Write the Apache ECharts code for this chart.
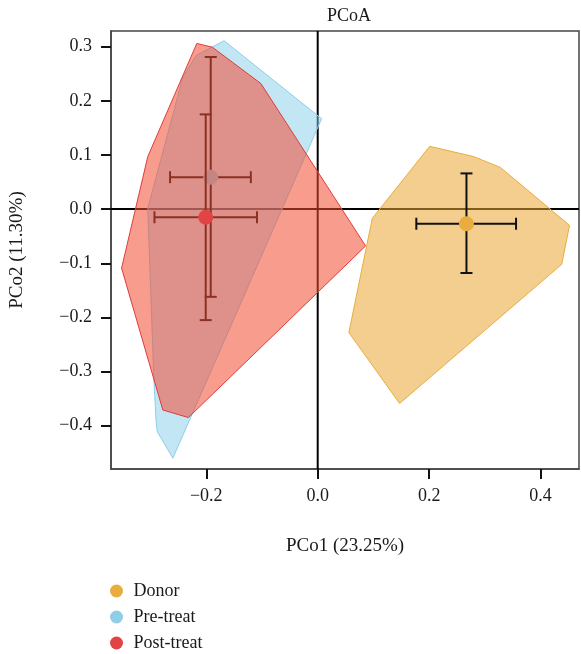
<!DOCTYPE html>
<html>
<head>
<meta charset="utf-8">
<script src="https://cdn.jsdelivr.net/npm/echarts@6.0.0/dist/echarts.min.js"></script>
<style>
  html, body { margin: 0; padding: 0; background: #fff; }
  #root { width: 581px; height: 654px; }
</style>
</head>
<body>
<div id="root"></div>
<script>
// group names
const groups = ['Donor', 'Pre-treat', 'Post-treat']

// convex hull vertices [PCo1, PCo2]
const donorHull = [[0.201, 0.116], [0.280, 0.097], [0.328, 0.077], [0.452, -0.030], [0.438, -0.102], [0.147, -0.359], [0.056, -0.228], [0.098, -0.017]]
const preHull = [[-0.168, 0.311], [0.007, 0.167], [-0.260, -0.460], [-0.288, -0.411], [-0.290, -0.392], [-0.294, -0.316], [-0.305, 0.001], [-0.242, 0.244], [-0.218, 0.284]]
const postHull = [[-0.217, 0.306], [-0.189, 0.299], [-0.102, 0.232], [0.086, -0.068], [-0.232, -0.385], [-0.278, -0.371], [-0.352, -0.109], [-0.305, 0.097]]

// group centres and error bar extents [cx, cy, xlo, xhi, ylo, yhi]
const donorCenter = [0.267, -0.027, 0.177, 0.356, -0.118, 0.066]
const preCenter = [-0.192, 0.059, -0.265, -0.120, -0.162, 0.281]
const postCenter = [-0.201, -0.015, -0.293, -0.109, -0.205, 0.175]

// tick labels
const xTicks = [-0.2, 0, 0.2, 0.4]
const yTicks = [-0.4, -0.3, -0.2, -0.1, 0, 0.1, 0.2, 0.3]

const colors = { 'Donor': '#e9ad3f', 'Pre-treat': '#8ecfe7', 'Post-treat': '#e14444' }
const fills = { 'Donor': 'rgba(235,165,50,0.55)', 'Pre-treat': 'rgba(135,206,235,0.5)', 'Post-treat': 'rgba(242,75,50,0.55)' }
const strokes = { 'Donor': '#e9ad3f', 'Pre-treat': '#8ecfe7', 'Post-treat': '#e03c3c' }

const font = 'Liberation Serif'
const fmt = v => v.toFixed(1).replace('-', '\u2212')

// reference lines through the origin, drawn under the hulls
function zeroSeries (z) {
  return {
    name: 'zero',
    type: 'custom',
    z: z,
    silent: true,
    data: [[0, 0]],
    renderItem: function (params, api) {
      const cs = params.coordSys
      const o = api.coord([api.value(0), api.value(1)])
      const style = { stroke: '#000', lineWidth: 2 }
      return {
        type: 'group',
        children: [
          { type: 'line', shape: { x1: o[0], y1: cs.y, x2: o[0], y2: cs.y + cs.height }, style },
          { type: 'line', shape: { x1: cs.x, y1: o[1], x2: cs.x + cs.width, y2: o[1] }, style }
        ]
      }
    }
  }
}

function hullSeries (name, points, z) {
  return {
    name: name,
    type: 'custom',
    z: z,
    silent: true,
    itemStyle: { color: colors[name] },
    encode: { x: 0, y: 1 },
    data: points,
    renderItem: function (params, api) {
      if (params.dataIndex !== 0) return null
      return {
        type: 'polygon',
        shape: { points: points.map(p => api.coord(p)) },
        style: { fill: fills[name], stroke: strokes[name], lineWidth: 1 }
      }
    }
  }
}

function errorSeries (name, c, z) {
  return {
    name: name,
    type: 'custom',
    z: z,
    silent: true,
    itemStyle: { color: colors[name] },
    encode: { x: [0, 2, 3], y: [1, 4, 5] },
    data: [c],
    renderItem: function (params, api) {
      const cx = api.value(0)
      const cy = api.value(1)
      const l = api.coord([api.value(2), cy])
      const r = api.coord([api.value(3), cy])
      const b = api.coord([cx, api.value(4)])
      const t = api.coord([cx, api.value(5)])
      const cap = 6
      const style = { stroke: '#111', lineWidth: 2 }
      const line = (x1, y1, x2, y2) => ({ type: 'line', shape: { x1, y1, x2, y2 }, style })
      return {
        type: 'group',
        children: [
          line(l[0], l[1], r[0], r[1]),
          line(l[0], l[1] - cap, l[0], l[1] + cap),
          line(r[0], r[1] - cap, r[0], r[1] + cap),
          line(b[0], b[1], t[0], t[1]),
          line(b[0] - cap, b[1], b[0] + cap, b[1]),
          line(t[0] - cap, t[1], t[0] + cap, t[1])
        ]
      }
    }
  }
}

function centerSeries (name, c, z) {
  return {
    name: name,
    type: 'scatter',
    z: z,
    silent: true,
    symbol: 'circle',
    symbolSize: 15,
    itemStyle: { color: colors[name], opacity: 1 },
    data: [[c[0], c[1]]]
  }
}

const chart = echarts.init(document.getElementById('root'), null, { renderer: 'canvas' })

const option = {
  animation: false,
  backgroundColor: '#fff',
  title: {
    text: 'PCoA',
    left: 344,
    top: 2,
    textAlign: 'center',
    textStyle: { fontFamily: font, fontSize: 18, fontWeight: 'normal', color: '#1a1a1a' }
  },
  legend: {
    orient: 'vertical',
    left: 105,
    top: 577,
    height: 90,
    itemGap: 8,
    itemWidth: 24,
    itemHeight: 13,
    icon: 'circle',
    selectedMode: false,
    textStyle: { fontFamily: font, fontSize: 18, color: '#1a1a1a' },
    data: groups.map(g => ({ name: g, itemStyle: { color: colors[g] } }))
  },
  grid: {
    left: 110,
    right: 2,
    top: 31,
    bottom: 185,
    show: true,
    borderColor: '#444',
    borderWidth: 1.5,
    containLabel: false
  },
  xAxis: {
    type: 'value',
    min: -0.371,
    max: 0.469,
    name: 'PCo1 (23.25%)',
    nameLocation: 'middle',
    nameGap: 68,
    nameTextStyle: { fontFamily: font, fontSize: 19, color: '#1a1a1a' },
    splitLine: { show: false },
    axisLine: { onZero: false, lineStyle: { color: '#444', width: 1.5 } },
    axisTick: { customValues: xTicks, length: 10, lineStyle: { color: '#111', width: 2 } },
    axisLabel: { customValues: xTicks, formatter: fmt, margin: 18, fontFamily: font, fontSize: 18, color: '#1a1a1a' }
  },
  yAxis: {
    type: 'value',
    min: -0.480,
    max: 0.329,
    name: 'PCo2 (11.30%)',
    nameLocation: 'middle',
    nameGap: 84,
    nameRotate: 90,
    nameTextStyle: { fontFamily: font, fontSize: 19, color: '#1a1a1a' },
    splitLine: { show: false },
    axisLine: { onZero: false, lineStyle: { color: '#444', width: 1.5 } },
    axisTick: { customValues: yTicks, length: 10, lineStyle: { color: '#111', width: 2 } },
    axisLabel: { customValues: yTicks, formatter: fmt, margin: 19, fontFamily: font, fontSize: 18, color: '#1a1a1a' }
  },
  series: [
    zeroSeries(1),
    hullSeries('Donor', donorHull, 2),
    errorSeries('Donor', donorCenter, 3),
    centerSeries('Donor', donorCenter, 4),
    hullSeries('Pre-treat', preHull, 5),
    errorSeries('Pre-treat', preCenter, 6),
    centerSeries('Pre-treat', preCenter, 7),
    errorSeries('Post-treat', postCenter, 8),
    hullSeries('Post-treat', postHull, 9),
    centerSeries('Post-treat', postCenter, 10)
  ]
}

chart.setOption(option)
</script>
</body>
</html>
